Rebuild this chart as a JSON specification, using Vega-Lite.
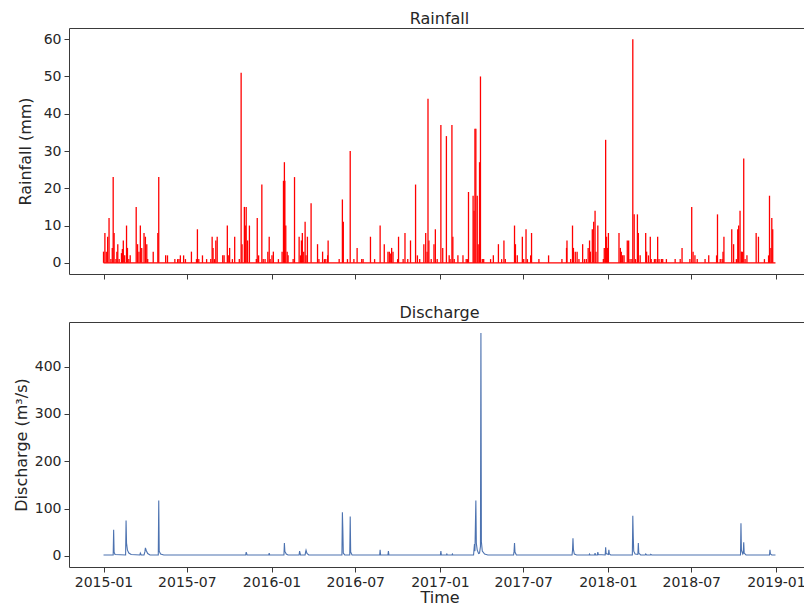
{
  "$schema": "https://vega.github.io/schema/vega-lite/v6.json",
  "padding": {"left": 12, "top": 10, "right": 0, "bottom": 0},
  "config": {
    "font": "DejaVu Sans",
    "view": {"stroke": "#3a3a3a", "strokeWidth": 1},
    "axis": {"grid": false, "domain": false, "tickColor": "#3a3a3a", "tickSize": 5, "labelFontSize": 14, "labelColor": "#262626", "titleFontSize": 16, "titleFontWeight": "normal", "titleColor": "#262626", "labelPadding": 3, "titlePadding": 5},
    "title": {"fontSize": 16, "fontWeight": "normal", "color": "#262626", "offset": 0, "baseline": "alphabetic", "dy": 3},
    "concat": {"spacing": 24}
  },
  "datasets": {
    "rain": [
      {"date":"2015-01-01","rain":3},{"date":"2015-01-04","rain":8},{"date":"2015-01-07","rain":3},{"date":"2015-01-10","rain":7},{"date":"2015-01-13","rain":12},{"date":"2015-01-17","rain":1},{"date":"2015-01-20","rain":4},{"date":"2015-01-22","rain":23},{"date":"2015-01-24","rain":8},{"date":"2015-01-28","rain":1},{"date":"2015-01-30","rain":3},{"date":"2015-02-01","rain":5},{"date":"2015-02-04","rain":1},{"date":"2015-02-09","rain":2.6},{"date":"2015-02-11","rain":3.7},{"date":"2015-02-13","rain":6},{"date":"2015-02-16","rain":2},{"date":"2015-02-20","rain":10},{"date":"2015-02-22","rain":4},{"date":"2015-02-25","rain":1},{"date":"2015-02-28","rain":2},
      {"date":"2015-03-13","rain":15},{"date":"2015-03-16","rain":5},{"date":"2015-03-19","rain":3},{"date":"2015-03-22","rain":10},{"date":"2015-03-25","rain":4},{"date":"2015-03-30","rain":8},{"date":"2015-04-02","rain":7},{"date":"2015-04-05","rain":5},{"date":"2015-04-07","rain":1},{"date":"2015-04-19","rain":3},{"date":"2015-04-29","rain":8},{"date":"2015-05-01","rain":23},{"date":"2015-05-16","rain":2},{"date":"2015-05-20","rain":2},
      {"date":"2015-06-05","rain":1},{"date":"2015-06-11","rain":1},{"date":"2015-06-14","rain":1},{"date":"2015-06-17","rain":2},{"date":"2015-06-24","rain":2},{"date":"2015-06-28","rain":1},{"date":"2015-07-11","rain":3},{"date":"2015-07-22","rain":1},{"date":"2015-07-24","rain":9},{"date":"2015-07-27","rain":1},{"date":"2015-08-04","rain":2},{"date":"2015-08-13","rain":1},{"date":"2015-08-22","rain":1},{"date":"2015-08-25","rain":7},{"date":"2015-08-27","rain":4},{"date":"2015-08-30","rain":1},
      {"date":"2015-09-02","rain":6},{"date":"2015-09-05","rain":7},{"date":"2015-09-17","rain":2},{"date":"2015-09-20","rain":2},{"date":"2015-09-27","rain":10},{"date":"2015-09-29","rain":2},{"date":"2015-10-02","rain":4},{"date":"2015-10-08","rain":1},{"date":"2015-10-13","rain":7},{"date":"2015-10-23","rain":1},{"date":"2015-10-27","rain":51},{"date":"2015-10-29","rain":5},{"date":"2015-11-03","rain":15},{"date":"2015-11-05","rain":10},{"date":"2015-11-07","rain":15},{"date":"2015-11-10","rain":6},{"date":"2015-11-14","rain":10},{"date":"2015-11-29","rain":1},
      {"date":"2015-12-01","rain":12},{"date":"2015-12-04","rain":2},{"date":"2015-12-11","rain":21},{"date":"2015-12-14","rain":1},{"date":"2015-12-18","rain":1},{"date":"2015-12-24","rain":3},{"date":"2015-12-27","rain":7},{"date":"2015-12-29","rain":1},
      {"date":"2016-01-02","rain":2},{"date":"2016-01-05","rain":3},{"date":"2016-01-16","rain":1},{"date":"2016-01-24","rain":3},{"date":"2016-01-27","rain":22},{"date":"2016-01-29","rain":27},{"date":"2016-01-30","rain":22},{"date":"2016-02-01","rain":10},{"date":"2016-02-04","rain":3},{"date":"2016-02-06","rain":2},{"date":"2016-02-17","rain":1},{"date":"2016-02-20","rain":23},
      {"date":"2016-03-01","rain":7},{"date":"2016-03-04","rain":2},{"date":"2016-03-06","rain":6},{"date":"2016-03-08","rain":8},{"date":"2016-03-11","rain":3},{"date":"2016-03-14","rain":11},{"date":"2016-03-16","rain":2},{"date":"2016-03-19","rain":7},{"date":"2016-03-27","rain":16},{"date":"2016-04-10","rain":5},{"date":"2016-04-13","rain":1},{"date":"2016-04-21","rain":3},{"date":"2016-04-25","rain":1},{"date":"2016-04-28","rain":1},{"date":"2016-05-02","rain":2},{"date":"2016-05-03","rain":6},{"date":"2016-05-27","rain":1},
      {"date":"2016-06-03","rain":17},{"date":"2016-06-05","rain":11},{"date":"2016-06-14","rain":1},{"date":"2016-06-20","rain":30},{"date":"2016-06-28","rain":1},{"date":"2016-07-05","rain":4},{"date":"2016-07-15","rain":1},{"date":"2016-07-18","rain":1},{"date":"2016-08-03","rain":7},{"date":"2016-08-12","rain":1},{"date":"2016-08-24","rain":10},
      {"date":"2016-09-02","rain":5},{"date":"2016-09-10","rain":3},{"date":"2016-09-13","rain":3},{"date":"2016-09-16","rain":2.5},{"date":"2016-09-18","rain":4},{"date":"2016-09-21","rain":3},{"date":"2016-10-01","rain":1},{"date":"2016-10-03","rain":7},{"date":"2016-10-13","rain":1},{"date":"2016-10-17","rain":8},{"date":"2016-10-23","rain":1},{"date":"2016-10-29","rain":6},
      {"date":"2016-11-09","rain":21},{"date":"2016-11-13","rain":2},{"date":"2016-11-18","rain":1},{"date":"2016-11-27","rain":5},{"date":"2016-12-01","rain":8},{"date":"2016-12-04","rain":3},{"date":"2016-12-06","rain":44},{"date":"2016-12-08","rain":6},{"date":"2016-12-13","rain":1},{"date":"2016-12-19","rain":5},{"date":"2016-12-22","rain":9},{"date":"2016-12-26","rain":1},
      {"date":"2017-01-03","rain":37},{"date":"2017-01-07","rain":4},{"date":"2017-01-15","rain":34},{"date":"2017-01-21","rain":2},{"date":"2017-01-23","rain":1},{"date":"2017-01-27","rain":37},{"date":"2017-01-29","rain":7},{"date":"2017-02-01","rain":1},{"date":"2017-02-09","rain":2},{"date":"2017-02-20","rain":2},{"date":"2017-02-27","rain":1},
      {"date":"2017-03-02","rain":1},{"date":"2017-03-04","rain":19},{"date":"2017-03-14","rain":18},{"date":"2017-03-16","rain":14},{"date":"2017-03-18","rain":36},{"date":"2017-03-20","rain":36},{"date":"2017-03-23","rain":18},{"date":"2017-03-25","rain":5},{"date":"2017-03-28","rain":27},{"date":"2017-03-30","rain":50},{"date":"2017-04-03","rain":1},{"date":"2017-04-06","rain":1},{"date":"2017-04-21","rain":1},{"date":"2017-04-27","rain":2},
      {"date":"2017-05-08","rain":5},{"date":"2017-05-15","rain":1},{"date":"2017-05-20","rain":6},{"date":"2017-05-23","rain":1},{"date":"2017-06-12","rain":10},{"date":"2017-06-14","rain":5},{"date":"2017-06-18","rain":2},{"date":"2017-06-29","rain":7},{"date":"2017-07-02","rain":1},{"date":"2017-07-07","rain":9},{"date":"2017-07-10","rain":1},{"date":"2017-07-17","rain":2},{"date":"2017-07-19","rain":8},{"date":"2017-08-04","rain":1},{"date":"2017-08-25","rain":2},{"date":"2017-09-23","rain":1},
      {"date":"2017-10-03","rain":4},{"date":"2017-10-04","rain":6},{"date":"2017-10-12","rain":1},{"date":"2017-10-16","rain":10},{"date":"2017-10-18","rain":4},{"date":"2017-10-22","rain":3},{"date":"2017-10-26","rain":3},{"date":"2017-10-30","rain":1},{"date":"2017-11-07","rain":5},{"date":"2017-11-11","rain":1},{"date":"2017-11-15","rain":1},{"date":"2017-11-19","rain":4},{"date":"2017-11-22","rain":6},{"date":"2017-11-24","rain":3},{"date":"2017-11-28","rain":9},
      {"date":"2017-12-01","rain":11},{"date":"2017-12-04","rain":14},{"date":"2017-12-06","rain":3},{"date":"2017-12-10","rain":10},{"date":"2017-12-22","rain":1},{"date":"2017-12-24","rain":4},{"date":"2017-12-27","rain":33},{"date":"2017-12-29","rain":7},{"date":"2017-12-31","rain":4},
      {"date":"2018-01-02","rain":8},{"date":"2018-01-25","rain":8},{"date":"2018-01-28","rain":4},{"date":"2018-01-30","rain":3},{"date":"2018-02-02","rain":2},{"date":"2018-02-05","rain":2},{"date":"2018-02-12","rain":6},{"date":"2018-02-15","rain":6},{"date":"2018-02-18","rain":1},{"date":"2018-02-22","rain":1},{"date":"2018-02-24","rain":60},{"date":"2018-02-27","rain":13},
      {"date":"2018-03-02","rain":1},{"date":"2018-03-06","rain":13},{"date":"2018-03-08","rain":8},{"date":"2018-03-12","rain":2},{"date":"2018-03-24","rain":8},{"date":"2018-03-26","rain":3},{"date":"2018-03-30","rain":2},{"date":"2018-04-03","rain":7},{"date":"2018-04-05","rain":1},{"date":"2018-04-12","rain":1},{"date":"2018-04-15","rain":1},{"date":"2018-04-19","rain":7},{"date":"2018-04-22","rain":1},{"date":"2018-04-27","rain":1},{"date":"2018-04-30","rain":1},
      {"date":"2018-05-08","rain":1},{"date":"2018-05-27","rain":1},{"date":"2018-06-07","rain":1},{"date":"2018-06-11","rain":4},{"date":"2018-06-28","rain":1},{"date":"2018-07-02","rain":15},{"date":"2018-07-05","rain":3},{"date":"2018-07-09","rain":2},{"date":"2018-07-14","rain":1},{"date":"2018-07-31","rain":1},{"date":"2018-08-08","rain":2},{"date":"2018-08-25","rain":2},{"date":"2018-08-27","rain":13},
      {"date":"2018-09-02","rain":1},{"date":"2018-09-06","rain":1},{"date":"2018-09-08","rain":3},{"date":"2018-09-10","rain":7},{"date":"2018-09-27","rain":9},{"date":"2018-10-01","rain":5},{"date":"2018-10-07","rain":1},{"date":"2018-10-10","rain":9},{"date":"2018-10-12","rain":10},{"date":"2018-10-15","rain":14},{"date":"2018-10-18","rain":3},{"date":"2018-10-20","rain":3},{"date":"2018-10-23","rain":28},{"date":"2018-10-26","rain":1},{"date":"2018-10-30","rain":2},
      {"date":"2018-11-19","rain":8},{"date":"2018-11-24","rain":7},{"date":"2018-12-07","rain":1},{"date":"2018-12-16","rain":2},{"date":"2018-12-18","rain":18},{"date":"2018-12-21","rain":4},{"date":"2018-12-23","rain":12},{"date":"2018-12-25","rain":9},{"date":"2018-12-31","rain":0}
    ],
    "flow": [
      {"date":"2015-01-01","q":2},{"date":"2015-01-22","q":2},{"date":"2015-01-23","q":55},{"date":"2015-01-24","q":8},{"date":"2015-01-26","q":3},{"date":"2015-02-18","q":2},{"date":"2015-02-19","q":75},{"date":"2015-02-20","q":27},{"date":"2015-02-22","q":12},{"date":"2015-02-25","q":6},{"date":"2015-03-02","q":3},{"date":"2015-03-21","q":2},{"date":"2015-03-22","q":6},{"date":"2015-03-24","q":2},{"date":"2015-03-30","q":2},{"date":"2015-04-01","q":9},{"date":"2015-04-02","q":17},{"date":"2015-04-04","q":11},{"date":"2015-04-07","q":5},{"date":"2015-04-12","q":2},{"date":"2015-04-30","q":2},{"date":"2015-05-01","q":117},{"date":"2015-05-02","q":10},{"date":"2015-05-05","q":4},{"date":"2015-05-12","q":2},
      {"date":"2015-11-06","q":2},{"date":"2015-11-07","q":8},{"date":"2015-11-09","q":2},{"date":"2015-12-26","q":2},{"date":"2015-12-27","q":6},{"date":"2015-12-28","q":2},
      {"date":"2016-01-28","q":2},{"date":"2016-01-29","q":27},{"date":"2016-01-30","q":10},{"date":"2016-02-02","q":4},{"date":"2016-02-06","q":2},{"date":"2016-03-01","q":2},{"date":"2016-03-02","q":10},{"date":"2016-03-04","q":2},{"date":"2016-03-14","q":2},{"date":"2016-03-15","q":8},{"date":"2016-03-16","q":12},{"date":"2016-03-18","q":5},{"date":"2016-03-22","q":2},
      {"date":"2016-06-02","q":2},{"date":"2016-06-03","q":92},{"date":"2016-06-04","q":55},{"date":"2016-06-05","q":6},{"date":"2016-06-08","q":2},{"date":"2016-06-19","q":2},{"date":"2016-06-20","q":83},{"date":"2016-06-21","q":8},{"date":"2016-06-24","q":2},{"date":"2016-08-23","q":2},{"date":"2016-08-24","q":13},{"date":"2016-08-25","q":2},{"date":"2016-09-10","q":2},{"date":"2016-09-11","q":10},{"date":"2016-09-12","q":2},
      {"date":"2017-01-02","q":2},{"date":"2017-01-03","q":10},{"date":"2017-01-04","q":2},{"date":"2017-01-15","q":2},{"date":"2017-01-16","q":4},{"date":"2017-01-17","q":2},{"date":"2017-01-27","q":2},{"date":"2017-01-28","q":4},{"date":"2017-01-29","q":2},
      {"date":"2017-03-15","q":2},{"date":"2017-03-17","q":25},{"date":"2017-03-18","q":10},{"date":"2017-03-20","q":117},{"date":"2017-03-21","q":27},{"date":"2017-03-23","q":12},{"date":"2017-03-26","q":5},{"date":"2017-03-28","q":6},{"date":"2017-03-30","q":20},{"date":"2017-03-31","q":471},{"date":"2017-04-01","q":30},{"date":"2017-04-03","q":10},{"date":"2017-04-08","q":4},{"date":"2017-04-15","q":2},
      {"date":"2017-06-10","q":2},{"date":"2017-06-11","q":10},{"date":"2017-06-12","q":27},{"date":"2017-06-13","q":8},{"date":"2017-06-16","q":2},
      {"date":"2017-10-15","q":2},{"date":"2017-10-16","q":12},{"date":"2017-10-17","q":37},{"date":"2017-10-18","q":13},{"date":"2017-10-20","q":4},{"date":"2017-10-25","q":2},{"date":"2017-11-21","q":2},{"date":"2017-11-22","q":4},{"date":"2017-11-23","q":2},{"date":"2017-12-03","q":2},{"date":"2017-12-04","q":6},{"date":"2017-12-05","q":2},{"date":"2017-12-09","q":2},{"date":"2017-12-10","q":8},{"date":"2017-12-11","q":3},{"date":"2017-12-26","q":2},{"date":"2017-12-27","q":18},{"date":"2017-12-28","q":5},
      {"date":"2018-01-02","q":3},{"date":"2018-01-03","q":13},{"date":"2018-01-04","q":4},{"date":"2018-01-07","q":2},{"date":"2018-02-23","q":2},{"date":"2018-02-24","q":85},{"date":"2018-02-25","q":41},{"date":"2018-02-26","q":10},{"date":"2018-03-01","q":4},{"date":"2018-03-07","q":3},{"date":"2018-03-08","q":27},{"date":"2018-03-09","q":6},{"date":"2018-03-13","q":2},{"date":"2018-03-23","q":2},{"date":"2018-03-24","q":4},{"date":"2018-03-26","q":2},{"date":"2018-04-03","q":2},{"date":"2018-04-04","q":3.5},{"date":"2018-04-06","q":2},
      {"date":"2018-10-16","q":2},{"date":"2018-10-17","q":69},{"date":"2018-10-18","q":12},{"date":"2018-10-21","q":4},{"date":"2018-10-22","q":6},{"date":"2018-10-23","q":29},{"date":"2018-10-24","q":6},{"date":"2018-10-28","q":2},{"date":"2018-12-18","q":2},{"date":"2018-12-19","q":13},{"date":"2018-12-20","q":4},{"date":"2018-12-23","q":2},{"date":"2018-12-31","q":2}
    ]
  },
  "vconcat": [
    {
      "title": "Rainfall",
      "width": 741,
      "height": 246,
      "data": {"name": "rain"},
      "layer": [
        {
          "mark": {"type": "rule", "color": "red", "strokeWidth": 1.3},
          "encoding": {
            "x": {"field": "date", "type": "temporal",
              "scale": {"type": "utc", "domain": [{"year": 2014, "month": 10, "date": 18, "utc": true}, {"year": 2019, "month": 3, "date": 16, "utc": true}]},
              "axis": {"title": null, "labels": false, "ticks": true,
                "values": [{"year":2015,"month":1,"date":1,"utc":true},{"year":2015,"month":7,"date":1,"utc":true},{"year":2016,"month":1,"date":1,"utc":true},{"year":2016,"month":7,"date":1,"utc":true},{"year":2017,"month":1,"date":1,"utc":true},{"year":2017,"month":7,"date":1,"utc":true},{"year":2018,"month":1,"date":1,"utc":true},{"year":2018,"month":7,"date":1,"utc":true},{"year":2019,"month":1,"date":1,"utc":true}]}},
            "y": {"field": "rain", "type": "quantitative", "scale": {"domain": [-3, 63], "nice": false, "zero": false},
              "axis": {"title": "Rainfall (mm)", "titlePadding": 10, "values": [0, 10, 20, 30, 40, 50, 60]}},
            "y2": {"datum": 0}
          }
        },
        {
          "mark": {"type": "rule", "color": "red", "strokeWidth": 1.3},
          "encoding": {
            "x": {"aggregate": "min", "field": "date", "type": "temporal"},
            "x2": {"aggregate": "max", "field": "date"},
            "y": {"datum": 0}
          }
        }
      ]
    },
    {
      "title": "Discharge",
      "width": 741,
      "height": 245,
      "data": {"name": "flow"},
      "mark": {"type": "line", "color": "#4c72b0", "strokeWidth": 1.1},
      "encoding": {
        "x": {"field": "date", "type": "temporal",
          "scale": {"type": "utc", "domain": [{"year": 2014, "month": 10, "date": 18, "utc": true}, {"year": 2019, "month": 3, "date": 16, "utc": true}]},
          "axis": {"title": "Time", "titlePadding": 0, "format": "%Y-%m",
            "values": [{"year":2015,"month":1,"date":1,"utc":true},{"year":2015,"month":7,"date":1,"utc":true},{"year":2016,"month":1,"date":1,"utc":true},{"year":2016,"month":7,"date":1,"utc":true},{"year":2017,"month":1,"date":1,"utc":true},{"year":2017,"month":7,"date":1,"utc":true},{"year":2018,"month":1,"date":1,"utc":true},{"year":2018,"month":7,"date":1,"utc":true},{"year":2019,"month":1,"date":1,"utc":true}]}},
        "y": {"field": "q", "type": "quantitative", "scale": {"domain": [-23.5, 494.5], "nice": false, "zero": false},
          "axis": {"title": "Discharge (m³/s)", "values": [0, 100, 200, 300, 400]}}
      }
    }
  ]
}
